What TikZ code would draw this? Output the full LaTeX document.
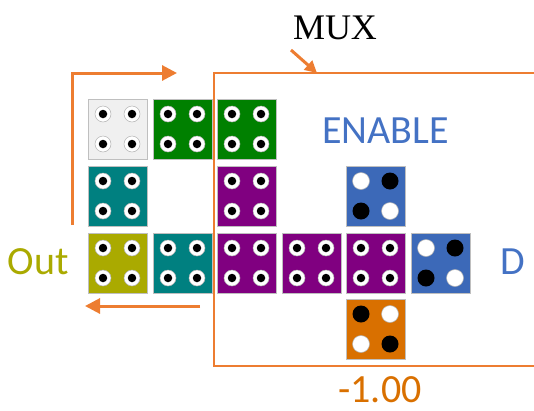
\documentclass[tikz,border=0pt]{standalone}
\usepackage{fontspec}
\setmainfont{Carlito}
\newfontfamily\serifmux{Liberation Serif}
\usetikzlibrary{arrows.meta}
\definecolor{lineor}{HTML}{ED7D31}
\definecolor{tgray}{HTML}{F0F0F0}
\definecolor{tgreen}{HTML}{008000}
\definecolor{tteal}{HTML}{008080}
\definecolor{tpurple}{HTML}{800080}
\definecolor{tolive}{HTML}{AAAA00}
\definecolor{tblue}{HTML}{3C69B8}
\definecolor{torange}{HTML}{D97000}
\definecolor{txtblue}{HTML}{4472C4}
\definecolor{txtolive}{HTML}{AAAA00}
\definecolor{txtorange}{HTML}{D97000}
\tikzset{
  tilebox/.style={draw=black!25, line width=0.8pt, fill=#1, minimum width=59pt, minimum height=60pt, inner sep=0pt, outer sep=0pt},
  ring/.style={circle, fill=white, draw=black!30, line width=0.5pt, minimum size=16pt, inner sep=0pt},
  dot/.style={circle, fill=black, minimum size=8.5pt, inner sep=0pt},
  bigw/.style={circle, fill=white, draw=black!30, line width=0.5pt, minimum size=17pt, inner sep=0pt},
  bigb/.style={circle, fill=black, minimum size=17pt, inner sep=0pt},
  orline/.style={draw=lineor, line width=3pt},
  ortip/.style={-{Triangle[length=15pt,width=15pt]}},
  bigtext/.style={font=\fontsize{40}{48}\selectfont, inner sep=0pt, anchor=base},
}
% ring tile: name, x, y, colour
\newcommand\ringtile[4]{%
  \node[tilebox=#4] (#1) at (#2,#3) {};
  \foreach \dx/\dy in {-14.5/-15,14.5/-15,-14.5/15,14.5/15}{
    \node[ring] at ([shift={(\dx,\dy)}]#1.center) {};
    \node[dot] at ([shift={(\dx,\dy)}]#1.center) {};
  }%
}
% solid tile: name, x, y, colour, styles TL TR BL BR
\newcommand\solidtile[8]{%
  \node[tilebox=#4] (#1) at (#2,#3) {};
  \node[#5] at ([shift={(-14.5,-15)}]#1.center) {};
  \node[#6] at ([shift={(14.5,-15)}]#1.center) {};
  \node[#7] at ([shift={(-14.5,15)}]#1.center) {};
  \node[#8] at ([shift={(14.5,15)}]#1.center) {};
}
\begin{document}
\begin{tikzpicture}[x=1pt,y=-1pt]
\useasboundingbox (0,0) rectangle (534,410);
% MUX frame
\coordinate (frTR) at (536,73);
\coordinate (frTL) at (214,73);
\coordinate (frBL) at (214,366);
\coordinate (frBR) at (536,366);
\draw[draw=lineor, line width=2pt] (frTR) -- (frTL) -- (frBL) -- (frBR);
% tiles
\ringtile{t11}{117.5}{129}{tgray}
\ringtile{t12}{182.5}{129}{tgreen}
\ringtile{t13}{246.5}{129}{tgreen}
\ringtile{t21}{117.5}{196}{tteal}
\ringtile{t23}{246.5}{196}{tpurple}
\solidtile{t25}{375.5}{196}{tblue}{bigw}{bigb}{bigb}{bigw}
\ringtile{t31}{117.5}{263}{tolive}
\ringtile{t32}{182.5}{263}{tteal}
\ringtile{t33}{246.5}{263}{tpurple}
\ringtile{t34}{311.5}{263}{tpurple}
\ringtile{t35}{375.5}{263}{tpurple}
\solidtile{t36}{440.5}{263}{tblue}{bigw}{bigb}{bigb}{bigw}
\solidtile{t45}{375.5}{329}{torange}{bigb}{bigw}{bigw}{bigb}
% texts
\node[font=\serifmux\fontsize{36}{40}\selectfont, inner sep=0pt, anchor=base] (mux) at (335,39) {MUX};
\node[bigtext, text=txtblue] (enable) at (385.5,143) {ENABLE};
\node[bigtext, text=txtolive] (out) at (38,274) {Out};
\node[bigtext, text=txtblue] (d) at (512.5,274) {D};
\node[bigtext, text=txtorange] (val) at (380,402) {-1.00};
% arrows
\coordinate (a1s) at (72,225);
\coordinate (a1c) at (72,73);
\coordinate (a1e) at (177,73);
\draw[orline, ortip] (a1s) -- (a1c) -- (a1e);
\coordinate (a2s) at (200,306);
\coordinate (a2e) at (85,306);
\draw[orline, ortip] (a2s) -- (a2e);
\coordinate (a3s) at (291,50);
\coordinate (a3e) at (317,73);
\draw[orline, -{Triangle[length=12pt,width=12pt]}] (a3s) -- (a3e);
\end{tikzpicture}
\end{document}
